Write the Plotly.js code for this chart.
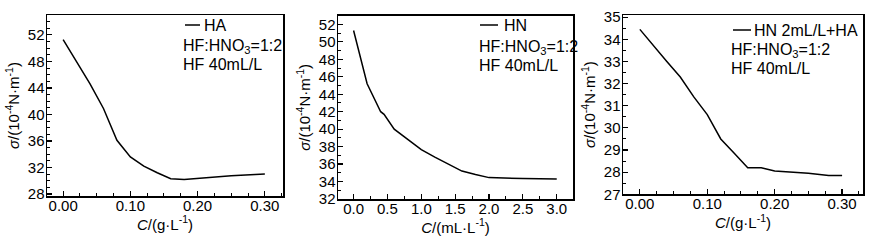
<!DOCTYPE html>
<html><head><meta charset="utf-8">
<script src="https://cdn.plot.ly/plotly-3.0.1.min.js"></script>
<style>body{margin:0;background:#fff}#c{width:874px;height:244px}</style>
</head><body><div id="c"></div>
<script>
// Panel 1: HA
const xHA = [0, 0.02, 0.04, 0.06, 0.08, 0.10, 0.12, 0.14, 0.16, 0.18, 0.20, 0.25, 0.30];
const yHA = [51.3, 48.0, 44.6, 40.9, 36.1, 33.6, 32.2, 31.2, 30.3, 30.2, 30.35, 30.75, 31.0];
// Panel 2: HN
const xHN = [0, 0.2, 0.4, 0.45, 0.6, 0.8, 1.0, 1.2, 1.4, 1.6, 1.8, 2.0, 2.5, 3.0];
const yHN = [51.3, 45.2, 42.0, 41.7, 40.0, 38.8, 37.65, 36.8, 36.0, 35.2, 34.8, 34.45, 34.35, 34.3];
// Panel 3: HN 2mL/L + HA
const xMix = [0, 0.02, 0.04, 0.06, 0.08, 0.10, 0.12, 0.14, 0.16, 0.18, 0.20, 0.25, 0.28, 0.30];
const yMix = [34.45, 33.7, 33.0, 32.3, 31.4, 30.6, 29.5, 28.85, 28.2, 28.2, 28.05, 27.95, 27.85, 27.85];

const legendNames = ["HA", "HN", "HN 2mL/L+HA"];
const ratioText = "HF:HNO<sub>3</sub>=1:2";
const hfText = "HF 40mL/L";
const yTitle = "<i>σ</i>/(10<sup>-4</sup>N·m<sup>-1</sup>)";
const xTitles = ["<i>C</i>/(g·L<sup>-1</sup>)", "<i>C</i>/(mL·L<sup>-1</sup>)", "<i>C</i>/(g·L<sup>-1</sup>)"];

const W = 874, H = 244;
const px = v => v / W, py = v => 1 - v / H;
const font = {family: "Liberation Sans, Arial, sans-serif", size: 15, color: "#000"};
const lfont = {family: "Liberation Sans, Arial, sans-serif", size: 16, color: "#000"};

function ax(anchor, domain, range, tick0, dtick, minorD, fmt, title, standoff, lblOff) {
  return {
    anchor: anchor, domain: domain, range: range, tick0: tick0, dtick: dtick, tickformat: fmt,
    ticks: "inside", ticklen: 5, tickwidth: 1.2, tickcolor: "#000",
    minor: {ticks: "inside", ticklen: 3, dtick: minorD, tick0: tick0, tickcolor: "#000", tickwidth: 1},
    showline: true, linecolor: "#000", linewidth: 1.5, mirror: true,
    showgrid: false, zeroline: false, tickfont: font, ticklabelstandoff: lblOff,
    title: {text: title, font: font, standoff: standoff}
  };
}

const line = {color: "#000", width: 1.5};
const data = [
  {x: xHA, y: yHA, xaxis: "x", yaxis: "y", mode: "lines", line: line, name: legendNames[0]},
  {x: xHN, y: yHN, xaxis: "x2", yaxis: "y2", mode: "lines", line: line, name: legendNames[1]},
  {x: xMix, y: yMix, xaxis: "x3", yaxis: "y3", mode: "lines", line: line, name: legendNames[2]}
];

const layout = {
  width: W, height: H, margin: {l: 0, r: 0, t: 0, b: 0},
  paper_bgcolor: "#fff", plot_bgcolor: "#fff", showlegend: false, font: font,
  xaxis: ax("y", [px(47), px(283)], [-0.024, 0.327], 0, 0.1, 0.025, ".2f", xTitles[0], 1, -5),
  yaxis: ax("x", [py(196), py(15)], [27.7, 55], 28, 4, 1, "d", yTitle, 4, -2),
  xaxis2: ax("y2", [px(338), px(573)], [-0.23, 3.24], 0, 0.5, 0.25, ".1f", xTitles[1], 1, -5),
  yaxis2: ax("x2", [py(199), py(15.7)], [32, 53], 32, 2, 1, "d", yTitle, 4, -2),
  xaxis3: ax("y3", [px(623), px(863)], [-0.025, 0.331], 0, 0.1, 0.025, ".2f", xTitles[2], 1, -5),
  yaxis3: ax("x3", [py(194.3), py(15)], [27, 35.1], 27, 1, 0.5, "d", yTitle, 4, -2),
  shapes: [
    {type: "line", xref: "paper", yref: "paper", x0: px(185), x1: px(200), y0: py(25), y1: py(25), line: {color: "#000", width: 1.5}},
    {type: "line", xref: "paper", yref: "paper", x0: px(480), x1: px(498), y0: py(25), y1: py(25), line: {color: "#000", width: 1.5}},
    {type: "line", xref: "paper", yref: "paper", x0: px(733), x1: px(751), y0: py(30), y1: py(30), line: {color: "#000", width: 1.5}}
  ],
  annotations: [
    {xref: "paper", yref: "paper", x: px(202), y: py(25), text: legendNames[0], showarrow: false, xanchor: "left", yanchor: "middle", font: lfont},
    {xref: "paper", yref: "paper", x: px(181), y: py(46), text: ratioText, showarrow: false, xanchor: "left", yanchor: "middle", font: lfont},
    {xref: "paper", yref: "paper", x: px(181), y: py(64), text: hfText, showarrow: false, xanchor: "left", yanchor: "middle", font: lfont},
    {xref: "paper", yref: "paper", x: px(502), y: py(25), text: legendNames[1], showarrow: false, xanchor: "left", yanchor: "middle", font: lfont},
    {xref: "paper", yref: "paper", x: px(477), y: py(47), text: ratioText, showarrow: false, xanchor: "left", yanchor: "middle", font: lfont},
    {xref: "paper", yref: "paper", x: px(477), y: py(65), text: hfText, showarrow: false, xanchor: "left", yanchor: "middle", font: lfont},
    {xref: "paper", yref: "paper", x: px(752), y: py(30), text: legendNames[2], showarrow: false, xanchor: "left", yanchor: "middle", font: lfont},
    {xref: "paper", yref: "paper", x: px(729), y: py(50), text: ratioText, showarrow: false, xanchor: "left", yanchor: "middle", font: lfont},
    {xref: "paper", yref: "paper", x: px(729), y: py(68), text: hfText, showarrow: false, xanchor: "left", yanchor: "middle", font: lfont}
  ]
};
Plotly.newPlot("c", data, layout, {displayModeBar: false, staticPlot: true});
</script></body></html>
